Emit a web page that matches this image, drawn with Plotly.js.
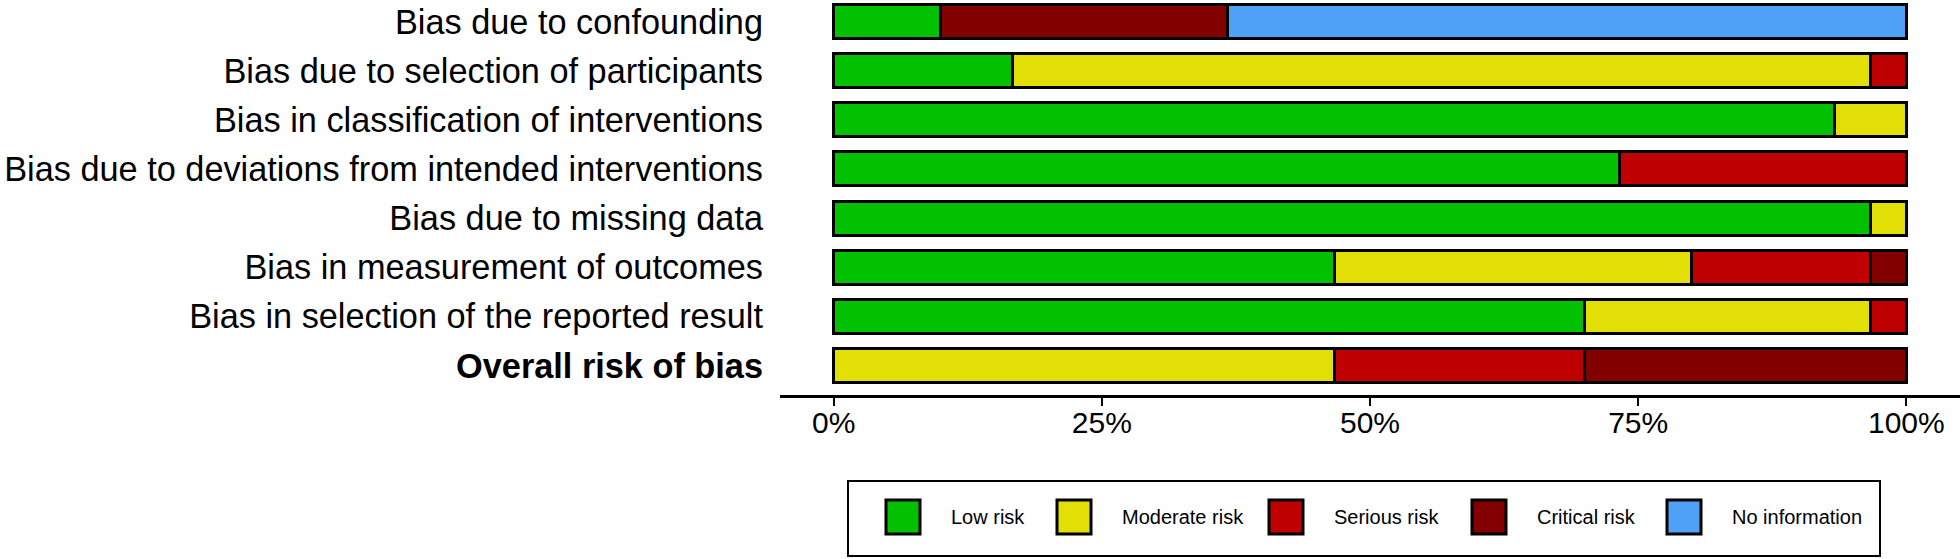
<!DOCTYPE html>
<html>
<head>
<meta charset="utf-8">
<script src="https://cdn.plot.ly/plotly-3.0.1.min.js"></script>
<style>
  html, body { margin: 0; padding: 0; background: #ffffff; }
  #chart { width: 1960px; height: 559px; }
</style>
</head>
<body>
<div id="chart"></div>
<script>
// ---- data ----
var domains = [
  "Bias due to confounding",
  "Bias due to selection of participants",
  "Bias in classification of interventions",
  "Bias due to deviations from intended interventions",
  "Bias due to missing data",
  "Bias in measurement of outcomes",
  "Bias in selection of the reported result",
  "Overall risk of bias"
];
var riskLevels = ["Low risk", "Moderate risk", "Serious risk", "Critical risk", "No information"];
var riskColors = ["#02C100", "#E2DF07", "#BF0000", "#820000", "#4EA1F7"];

// percentage of studies per domain (order follows `domains`)
var lowRisk       = [10.0, 16.7, 93.3, 73.3, 96.7, 46.7, 70.0, 0];
var moderateRisk  = [0,    80.0, 6.7,  0,    3.3,  33.3, 26.7, 46.7];
var seriousRisk   = [0,    3.3,  0,    26.7, 0,    16.7, 3.3,  23.3];
var criticalRisk  = [26.7, 0,    0,    0,    0,    3.3,  0,    30.0];
var noInformation = [63.3, 0,    0,    0,    0,    0,    0,    0];

var xTickVals = [0, 25, 50, 75, 100];
var xTickText = ["0%", "25%", "50%", "75%", "100%"];

// ---- build ----
var series = [lowRisk, moderateRisk, seriousRisk, criticalRisk, noInformation];
var FONT = '"Liberation Sans", Arial, Helvetica, sans-serif';

var traces = series.map(function (vals, i) {
  return {
    type: 'bar',
    orientation: 'h',
    name: riskLevels[i],
    y: domains,
    x: vals.map(function (v) { return v > 0 ? v : null; }),
    width: 0.69,
    marker: { color: riskColors[i], line: { color: '#000000', width: 3 } },
    showlegend: false,
    hoverinfo: 'name+x'
  };
});

var W = 1960, H = 559;
var ML = 780, MR = 0, MT = 0, MB = 164;
var plotW = W - ML - MR, plotH = H - MT - MB;
function px2x(px) { return (px - ML) / plotW; }
function px2y(py) { return (H - MB - py) / plotH; }

// custom legend (layout positions in pixels)
var legBox = { x0: 848, x1: 1880, y0: 481, y1: 556 };
var legSquareLeft = [886, 1057, 1269, 1472, 1667];
var legSquareSize = 34;
var legSquareTop = 500;
var legTextGap = 29;

var shapes = [{
  type: 'rect', xref: 'paper', yref: 'paper',
  x0: px2x(legBox.x0), x1: px2x(legBox.x1), y0: px2y(legBox.y1), y1: px2y(legBox.y0),
  line: { color: '#000000', width: 2 }, fillcolor: 'rgba(0,0,0,0)'
}];
var annotations = [];
riskLevels.forEach(function (name, i) {
  var x0 = legSquareLeft[i];
  shapes.push({
    type: 'rect', xref: 'paper', yref: 'paper',
    x0: px2x(x0), x1: px2x(x0 + legSquareSize),
    y0: px2y(legSquareTop + legSquareSize), y1: px2y(legSquareTop),
    line: { color: '#000000', width: 3 }, fillcolor: riskColors[i]
  });
  annotations.push({
    xref: 'paper', yref: 'paper',
    x: px2x(x0 + legSquareSize + legTextGap), y: px2y(legSquareTop + legSquareSize / 2),
    xanchor: 'left', yanchor: 'middle', showarrow: false,
    text: name, font: { family: FONT, size: 20, color: '#000000' }
  });
});

var layout = {
  width: W, height: H,
  margin: { l: ML, r: MR, t: MT, b: MB, pad: 0 },
  paper_bgcolor: '#ffffff', plot_bgcolor: '#ffffff',
  barmode: 'stack',
  showlegend: false,
  font: { family: FONT, color: '#000000' },
  xaxis: {
    range: [-5, 105],
    tickvals: xTickVals, ticktext: xTickText,
    ticks: 'outside', ticklen: 8, tickwidth: 2, tickcolor: '#000000',
    showline: true, linecolor: '#000000', linewidth: 3,
    showgrid: false, zeroline: false,
    tickfont: { family: FONT, size: 30, color: '#000000' },
    ticklabelstandoff: -9,
    automargin: false, fixedrange: true
  },
  yaxis: {
    type: 'category',
    categoryorder: 'array', categoryarray: domains,
    range: [7.6, -0.4375],
    tickvals: domains,
    ticktext: domains.map(function (d, i) { return i === domains.length - 1 ? '<b>' + d + '</b>' : d; }),
    ticks: '', showline: false, showgrid: false, zeroline: false,
    tickfont: { family: FONT, size: 34.3, color: '#000000' },
    ticklabelstandoff: 16,
    automargin: false, fixedrange: true
  },
  shapes: shapes,
  annotations: annotations
};

Plotly.newPlot('chart', traces, layout, { displayModeBar: false, staticPlot: true });
</script>
</body>
</html>
